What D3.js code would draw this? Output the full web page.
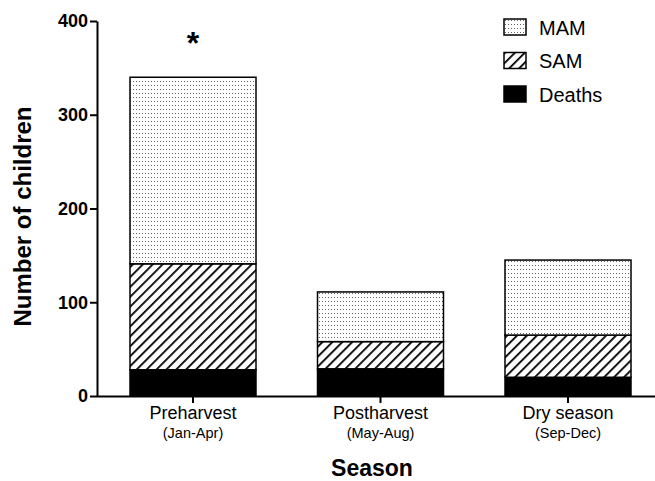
<!DOCTYPE html>
<html>
<head>
<meta charset="utf-8">
<script src="https://cdn.jsdelivr.net/npm/d3@7"></script>
<style>
  html, body { margin: 0; padding: 0; background: #fff; }
  svg { display: block; font-family: Arial, "Liberation Sans", sans-serif; }
</style>
</head>
<body>
<div id="chart"></div>
<script>
// Seasons and their month ranges
const seasons = ['Preharvest', 'Postharvest', 'Dry season'];
const months = ['(Jan-Apr)', '(May-Aug)', '(Sep-Dec)'];

// Stacked segments, bottom to top
const deaths = [28, 29, 20];
const sam = [113, 29, 45];
const mam = [199, 53, 80];

const seriesKeys = ['Deaths', 'SAM', 'MAM'];
const yTicks = [0, 100, 200, 300, 400];
const significant = ['Preharvest'];

const W = 655, H = 481;
const X0 = 97, Y0 = 396, YTOP = 21;

const svg = d3.select('#chart').append('svg')
  .attr('width', W).attr('height', H);

// Fill patterns
const defs = svg.append('defs');
const dots = defs.append('pattern')
  .attr('id', 'dots').attr('patternUnits', 'userSpaceOnUse')
  .attr('width', 3).attr('height', 4);
dots.append('rect').attr('width', 3).attr('height', 4).attr('fill', '#fff');
dots.append('rect').attr('x', 1).attr('y', 1).attr('width', 1).attr('height', 1).attr('fill', '#666');

const hatch = defs.append('pattern')
  .attr('id', 'hatch').attr('patternUnits', 'userSpaceOnUse')
  .attr('width', 7).attr('height', 7)
  .attr('patternTransform', 'rotate(45)');
hatch.append('rect').attr('width', 7).attr('height', 7).attr('fill', '#fff');
hatch.append('line').attr('x1', 0).attr('y1', 0).attr('x2', 0).attr('y2', 7)
  .attr('stroke', '#000').attr('stroke-width', 3.6);

const fills = { Deaths: '#000', SAM: 'url(#hatch)', MAM: 'url(#dots)' };

const rows = seasons.map((s, i) => ({
  season: s, Deaths: deaths[i], SAM: sam[i], MAM: mam[i]
}));
const stacked = d3.stack().keys(seriesKeys)(rows);

const x = d3.scaleBand()
  .domain(seasons)
  .range([X0, X0 + 187.5 * (3 - 0.328 + 2 * 0.176)])
  .paddingInner(0.328)
  .paddingOuter(0.176);

const y = d3.scaleLinear().domain([0, 400]).range([Y0, YTOP]);

// Bars
svg.append('g')
  .selectAll('g')
  .data(stacked)
  .join('g')
  .attr('fill', d => fills[d.key])
  .selectAll('rect')
  .data(d => d)
  .join('rect')
  .attr('x', d => x(d.data.season))
  .attr('y', d => y(d[1]))
  .attr('width', x.bandwidth())
  .attr('height', d => y(d[0]) - y(d[1]))
  .attr('stroke', '#000')
  .attr('stroke-width', 1.5);

// Y axis
const yAxis = svg.append('g')
  .attr('transform', `translate(${X0},0)`)
  .call(d3.axisLeft(y).tickValues(yTicks).tickSize(7).tickPadding(2).tickSizeOuter(0));
yAxis.select('.domain').attr('stroke-width', 2);
yAxis.selectAll('.tick line').attr('stroke-width', 2);
yAxis.selectAll('.tick text')
  .attr('font-size', 18).attr('font-weight', 'bold')
  .attr('font-family', 'Arial, "Liberation Sans", sans-serif')
  .attr('fill', '#000');

// X axis
const xAxis = svg.append('g')
  .attr('transform', `translate(0,${Y0})`)
  .call(d3.axisBottom(x).tickSize(7).tickSizeOuter(0).tickFormat(''));
xAxis.select('.domain').attr('d', `M${X0},0.5H${W}`).attr('stroke-width', 2);
xAxis.selectAll('.tick line').attr('stroke-width', 2);

// Category labels
svg.append('g').selectAll('text')
  .data(seasons)
  .join('text')
  .attr('x', d => x(d) + x.bandwidth() / 2)
  .attr('y', 419)
  .attr('text-anchor', 'middle')
  .attr('font-size', 18)
  .text(d => d);

svg.append('g').selectAll('text')
  .data(months)
  .join('text')
  .attr('x', (d, i) => x(seasons[i]) + x.bandwidth() / 2)
  .attr('y', 438)
  .attr('text-anchor', 'middle')
  .attr('font-size', 14.5)
  .text(d => d);

// Axis titles
svg.append('text')
  .attr('x', (X0 + W) / 2 - 4)
  .attr('y', 476)
  .attr('text-anchor', 'middle')
  .attr('font-size', 23).attr('font-weight', 'bold')
  .text('Season');

svg.append('text')
  .attr('transform', `translate(31,${(Y0 + YTOP) / 2 + 8}) rotate(-90)`)
  .attr('text-anchor', 'middle')
  .attr('font-size', 24).attr('font-weight', 'bold')
  .text('Number of children');

// Significance marker
svg.append('g').selectAll('text')
  .data(significant)
  .join('text')
  .attr('x', d => x(d) + x.bandwidth() / 2)
  .attr('y', 54)
  .attr('text-anchor', 'middle')
  .attr('font-size', 32).attr('font-weight', 'bold')
  .text('*');

// Legend
const legendKeys = ['MAM', 'SAM', 'Deaths'];
const legend = svg.append('g').attr('transform', 'translate(504,19)');
const item = legend.selectAll('g')
  .data(legendKeys)
  .join('g')
  .attr('transform', (d, i) => `translate(0,${i * 33.5})`);
item.append('rect')
  .attr('width', 22).attr('height', 16)
  .attr('fill', d => fills[d])
  .attr('stroke', '#000').attr('stroke-width', 1.5);
item.append('text')
  .attr('x', 35).attr('y', 15.5)
  .attr('font-size', 20)
  .text(d => d);
</script>
</body>
</html>
